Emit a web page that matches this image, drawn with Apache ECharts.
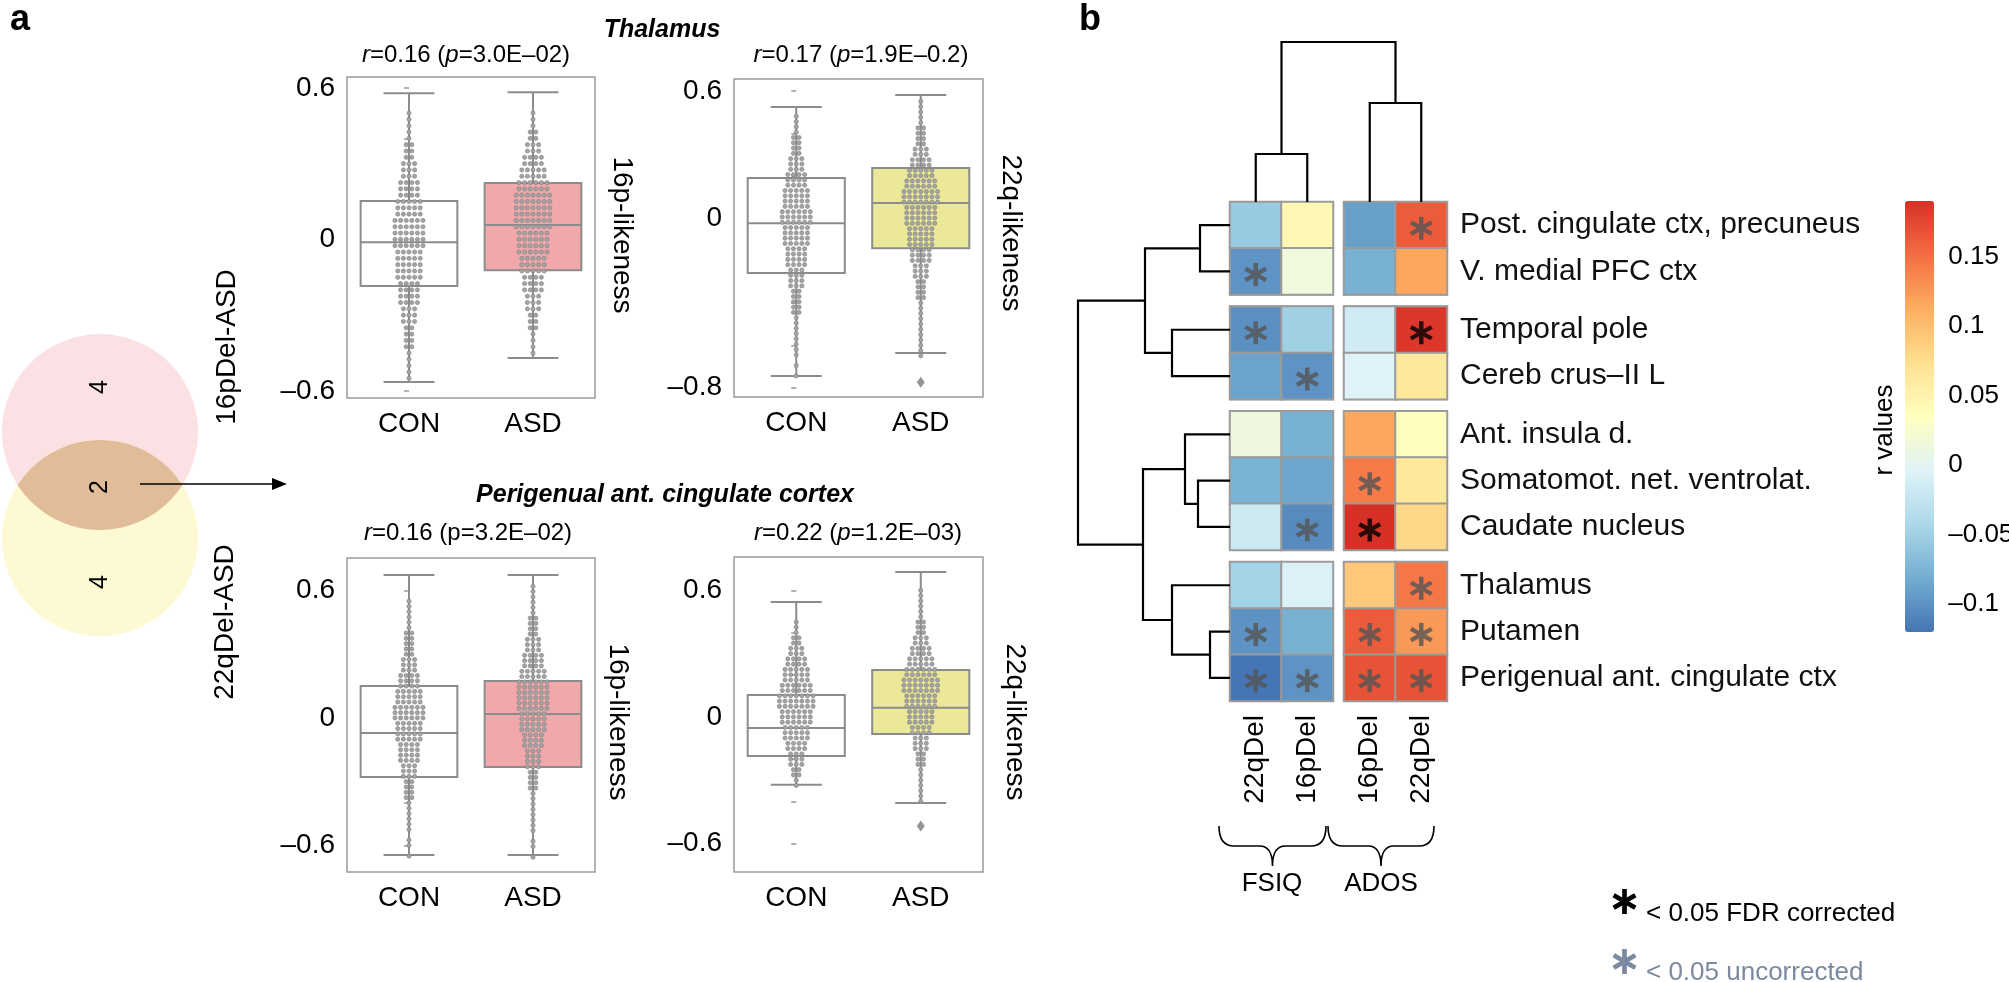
<!DOCTYPE html>
<html><head><meta charset="utf-8">
<script src="https://cdn.jsdelivr.net/npm/echarts@6/dist/echarts.min.js"></script>
<style>html,body{margin:0;padding:0;background:#fff}#c{width:2009px;height:982px}</style>
</head><body><div id="c"></div>
<script>
// ================= DATA =================
const groupNames = ['CON', 'ASD'];
// box stats per group: [lowerWhisker, Q1, median, Q3, upperWhisker]
const thal16Box = [[-0.565, -0.185, -0.011, 0.152, 0.579], [-0.470, -0.122, 0.057, 0.223, 0.583]];
const thal22Box = [[-0.745, -0.259, -0.024, 0.189, 0.524], [-0.637, -0.142, 0.071, 0.236, 0.580]];
const peri16Box = [[-0.645, -0.278, -0.071, 0.151, 0.673], [-0.645, -0.231, 0.019, 0.174, 0.673]];
const peri22Box = [[-0.322, -0.185, -0.052, 0.104, 0.545], [-0.408, -0.081, 0.043, 0.223, 0.687]];
const thal22Outliers = [[1, -0.774]];
const peri22Outliers = [[1, -0.517]];
// swarm: number of subjects per 0.025-wide bin, from the top value downwards
const swarmStep = 0.025;
const thal16ConTop = 0.50, thal16ConCounts = [1,1,1,1,1,2,2,2,3,3,3,4,4,4,5,5,5,6,6,6,6,6,5,5,5,5,5,4,4,4,4,3,3,3,2,2,2,2,1,1,1,1,1];
const thal16AsdTop = 0.50, thal16AsdCounts = [1,1,1,2,2,3,3,4,4,5,5,6,6,7,7,7,7,7,7,6,6,6,6,5,5,5,4,4,4,3,3,3,2,2,2,1,1,1,1];
const thal22ConTop = 0.48, thal22ConCounts = [1,1,1,1,2,2,2,2,3,3,3,4,4,4,5,5,5,5,6,6,6,5,5,5,5,4,4,4,4,3,3,3,3,2,2,2,2,2,1,1,1,1,1,1,1,1,0,1,0,1];
const thal22AsdTop = 0.55, thal22AsdCounts = [1,1,1,1,1,2,2,2,2,3,3,4,4,5,5,6,6,7,7,7,6,6,6,6,5,5,5,5,4,4,4,3,3,3,2,2,2,2,1,1,1,1,1,1,1,1,1,1,1];
const peri16ConTop = 0.55, peri16ConCounts = [1,1,1,1,1,1,2,2,2,2,2,3,3,3,4,4,4,5,5,5,6,6,6,5,5,5,5,4,4,4,4,3,3,3,2,2,2,2,1,1,1,1,1,1,0,1,1,0,1];
const peri16AsdTop = 0.62, peri16AsdCounts = [1,1,1,1,1,1,2,2,2,2,3,3,3,4,4,4,5,5,6,6,6,6,6,6,5,5,5,5,4,4,4,3,3,3,3,2,2,2,2,1,1,1,1,1,1,1,1,0,1,1,0,1];
const peri22ConTop = 0.45, peri22ConCounts = [1,1,1,2,2,3,3,4,4,5,5,5,6,6,7,7,7,6,6,6,5,5,5,4,4,3,3,3,2,2,1,1];
const peri22AsdTop = 0.60, peri22AsdCounts = [1,1,1,1,1,1,2,2,2,3,3,4,4,5,5,6,6,7,7,7,6,6,6,5,5,5,4,4,3,3,3,2,2,2,1,1,1,1,1,1,1];
// y-axis ticks / labels
const thal16Ticks = [-0.6,-0.4,-0.2,0,0.2,0.4,0.6], thal16Labels = [-0.6,0,0.6];
const thal22Ticks = [-0.8,-0.6,-0.4,-0.2,0,0.2,0.4,0.6], thal22Labels = [-0.8,0,0.6];
const peri16Ticks = [-0.6,-0.4,-0.2,0,0.2,0.4,0.6], peri16Labels = [-0.6,0,0.6];
const peri22Ticks = [-0.6,-0.4,-0.2,0,0.2,0.4,0.6], peri22Labels = [-0.6,0,0.6];
const panelTitles = ['{i|r}=0.16 ({i|p}=3.0E\u201302)', '{i|r}=0.17 ({i|p}=1.9E\u20130.2)', '{i|r}=0.16 (p=3.2E\u201302)', '{i|r}=0.22 ({i|p}=1.2E\u201303)'];
const sideLabels = ['16p-likeness', '22q-likeness', '16p-likeness', '22q-likeness'];
const regionTitles = ['Thalamus', 'Perigenual ant. cingulate cortex'];
// Venn
const vennSets = ['16pDel-ASD', '22qDel-ASD'];
const vennCounts = [4, 2, 4]; // 16p only, both, 22q only
// heatmap
const regions = ['Post. cingulate ctx, precuneus', 'V. medial PFC ctx', 'Temporal pole', 'Cereb crus\u2013II L',
  'Ant. insula d.', 'Somatomot. net. ventrolat.', 'Caudate nucleus', 'Thalamus', 'Putamen', 'Perigenual ant. cingulate ctx'];
const rowGroupSizes = [2, 2, 3, 3];
const measures = ['FSIQ', 'ADOS'];
const columns = [['22qDel', '16pDel'], ['16pDel', '22qDel']];
const rValues = [
  [-0.056, 0.044, -0.090, 0.162],
  [-0.099, 0.015, -0.078, 0.117],
  [-0.101, -0.050, -0.015, 0.185],
  [-0.088, -0.099, -0.005, 0.064],
  [0.014, -0.078, 0.117, 0.035],
  [-0.076, -0.086, 0.143, 0.064],
  [-0.018, -0.105, 0.190, 0.080],
  [-0.048, -0.007, 0.093, 0.145],
  [-0.100, -0.078, 0.162, 0.125],
  [-0.120, -0.099, 0.168, 0.168]
];
// 0 = n.s., 1 = p<0.05 uncorrected, 2 = p<0.05 FDR corrected
const significance = [
  [0,0,0,1],[1,0,0,0],[1,0,0,2],[0,1,0,0],[0,0,0,0],
  [0,0,1,0],[0,1,2,0],[0,0,0,1],[1,0,1,1],[1,1,1,1]
];
// dendrograms: [childA, childB, height] (scipy-style, leaves first)
const rowLinkage = [[8,9,0.20],[0,1,0.30],[5,6,0.32],[4,12,0.45],[2,3,0.58],[7,10,0.58],[11,14,0.85],[13,15,0.87],[16,17,1.52]];
const colLinkage = [[0,1,0.48],[2,3,0.99],[4,5,1.60]];
const colorMin = -0.12, colorMax = 0.19;
const colorbarTicks = [-0.1, -0.05, 0, 0.05, 0.1, 0.15];
const legendTexts = ['< 0.05 FDR corrected', '< 0.05 uncorrected'];

// ================= LAYOUT / STYLE =================
const FONT = "'Liberation Sans', Arial, Helvetica, sans-serif";
const GRAY = '#8c8c8c';
const fmt = v => v === 0 ? '0' : (v < 0 ? '\u2013' : '') + String(Math.abs(v));
const boxPanels = [
  {left: 347, top: 77, width: 248, height: 321, min: -0.628, max: 0.643, box: thal16Box, fill: ['#ffffff', '#f2a8aa'],
   ticks: thal16Ticks, labels: thal16Labels, swarm: [[thal16ConTop, thal16ConCounts], [thal16AsdTop, thal16AsdCounts]], out: []},
  {left: 734, top: 79, width: 249, height: 318, min: -0.844, max: 0.656, box: thal22Box, fill: ['#ffffff', '#ebe898'],
   ticks: thal22Ticks, labels: thal22Labels, swarm: [[thal22ConTop, thal22ConCounts], [thal22AsdTop, thal22AsdCounts]], out: thal22Outliers},
  {left: 347, top: 558, width: 248, height: 314, min: -0.725, max: 0.753, box: peri16Box, fill: ['#ffffff', '#f2a8aa'],
   ticks: peri16Ticks, labels: peri16Labels, swarm: [[peri16ConTop, peri16ConCounts], [peri16AsdTop, peri16AsdCounts]], out: []},
  {left: 734, top: 557, width: 249, height: 315, min: -0.735, max: 0.758, box: peri22Box, fill: ['#ffffff', '#ebe898'],
   ticks: peri22Ticks, labels: peri22Labels, swarm: [[peri22ConTop, peri22ConCounts], [peri22AsdTop, peri22AsdCounts]], out: peri22Outliers}
];
const titlePos = [[466, 55], [861, 55], [468, 533], [858, 533]];
const sidePos = [[622, 235], [1011, 233], [618, 722], [1015, 722]];

const grids = [], xAxes = [], yAxes = [], series = [];

function boxRenderer(fills) {
  return function (params, api) {
    const c = api.value(0);
    const lo = api.coord([c, api.value(1)]), q1 = api.coord([c, api.value(2)]);
    const md = api.coord([c, api.value(3)]), q3 = api.coord([c, api.value(4)]);
    const hi = api.coord([c, api.value(5)]);
    const band = api.size([1, 0])[0];
    const hw = band * 0.39, cw = band * 0.205;
    const ls = {stroke: GRAY, lineWidth: 2, fill: null};
    return {type: 'group', children: [
      {type: 'line', shape: {x1: lo[0], y1: lo[1], x2: hi[0], y2: hi[1]}, style: ls},
      {type: 'line', shape: {x1: lo[0] - cw, y1: lo[1], x2: lo[0] + cw, y2: lo[1]}, style: ls},
      {type: 'line', shape: {x1: hi[0] - cw, y1: hi[1], x2: hi[0] + cw, y2: hi[1]}, style: ls},
      {type: 'rect', shape: {x: q3[0] - hw, y: q3[1], width: 2 * hw, height: q1[1] - q3[1]}, style: {fill: fills[c], stroke: GRAY, lineWidth: 2}},
      {type: 'line', shape: {x1: md[0] - hw, y1: md[1], x2: md[0] + hw, y2: md[1]}, style: ls}
    ]};
  };
}

function swarmPoints(top, counts, cat, dx) {
  const pts = [];
  counts.forEach((n, i) => {
    const v = +(top - i * swarmStep).toFixed(4);
    for (let k = 0; k < n; k++) pts.push([cat + (k - (n - 1) / 2) * dx, v]);
  });
  return pts;
}

boxPanels.forEach((p, gi) => {
  grids.push({left: p.left, top: p.top, width: p.width, height: p.height, show: true, borderColor: '#9a9a9a', borderWidth: 1.5, backgroundColor: 'transparent'});
  const xc = xAxes.length;
  xAxes.push({type: 'category', gridIndex: gi, data: groupNames, axisLine: {show: false},
    axisTick: {alignWithLabel: true, length: 5, lineStyle: {color: '#999', width: 1.5}},
    axisLabel: {fontSize: 28, color: '#000', fontFamily: FONT, margin: 12}});
  const xv = xAxes.length;
  xAxes.push({type: 'value', gridIndex: gi, min: -0.5, max: 1.5, show: false});
  const yi = yAxes.length;
  yAxes.push({type: 'value', gridIndex: gi, min: p.min, max: p.max, axisLine: {show: false}, splitLine: {show: false},
    axisTick: {show: true, length: 5, customValues: p.ticks, lineStyle: {color: '#999', width: 1.5}},
    axisLabel: {customValues: p.labels, formatter: fmt, fontSize: 28, color: '#000', fontFamily: FONT, margin: 12}});
  series.push({type: 'custom', xAxisIndex: xc, yAxisIndex: yi, renderItem: boxRenderer(p.fill), clip: false, z: 2,
    encode: {x: 0, y: [1, 2, 3, 4, 5]}, silent: true,
    data: p.box.map((b, i) => [i].concat(b))});
  const dx = 5.6 / (p.width / 2);
  const pts = [].concat(swarmPoints(p.swarm[0][0], p.swarm[0][1], 0, dx), swarmPoints(p.swarm[1][0], p.swarm[1][1], 1, dx));
  series.push({type: 'scatter', xAxisIndex: xv, yAxisIndex: yi, data: pts, symbolSize: 4.2, z: 3, silent: true,
    itemStyle: {color: '#a4a4a4', borderColor: '#808080', borderWidth: 0.6, opacity: 1}});
  if (p.out.length) series.push({type: 'scatter', xAxisIndex: xv, yAxisIndex: yi, data: p.out, symbol: 'diamond', symbolSize: [8, 11], z: 3, silent: true,
    itemStyle: {color: '#7a7a7a'}});
});

// ---- heatmap blocks ----
const heatLeft = 1230, cellW = 51.5, colGap = 11, heatTop = 202, cellH = 46.3, rowGap = 12;
const heatSeriesIdx = [];
const ASTER_D = 'M41,2L59,2L59,98L41,98Z M87.07,18.21L96.07,33.79L12.93,81.79L3.93,66.21Z M3.93,33.79L12.93,18.21L96.07,66.21L87.07,81.79Z';
const ASTER = 'path://' + ASTER_D;
let rowStart = 0, gTop = heatTop;
const rowLeafPos = [];
rowGroupSizes.forEach((nr, k) => {
  for (let r = 0; r < nr; r++) rowLeafPos.push(rowStart + r + 0.5 + k * rowGap / cellH);
  for (let j = 0; j < 2; j++) {
    const gi = grids.length;
    grids.push({left: heatLeft + j * (2 * cellW + colGap), top: gTop, width: 2 * cellW, height: nr * cellH,
      show: true, borderColor: '#9b9b9b', borderWidth: 2, backgroundColor: 'transparent'});
    const xi = xAxes.length;
    xAxes.push({type: 'category', gridIndex: gi, data: columns[j], axisLine: {show: false}, axisTick: {show: false},
      axisLabel: {show: k === rowGroupSizes.length - 1, rotate: 90, fontSize: 28, color: '#000', fontFamily: FONT, margin: 14}});
    const yi = yAxes.length;
    yAxes.push({type: 'category', gridIndex: gi, inverse: true, position: 'right', data: regions.slice(rowStart, rowStart + nr),
      axisLine: {show: false}, axisTick: {show: false},
      axisLabel: {show: j === 1, fontSize: 30, color: '#111', fontFamily: FONT, margin: 13}});
    const hd = [], sigU = [], sigF = [];
    for (let r = 0; r < nr; r++) for (let c = 0; c < 2; c++) {
      const v = rValues[rowStart + r][j * 2 + c];
      hd.push([c, r, v]);
      const s = significance[rowStart + r][j * 2 + c];
      if (s === 1) sigU.push([c, r]);
      if (s === 2) sigF.push([c, r]);
    }
    heatSeriesIdx.push(series.length);
    series.push({type: 'heatmap', xAxisIndex: xi, yAxisIndex: yi, data: hd, silent: true,
      itemStyle: {borderColor: '#9b9b9b', borderWidth: 2}, emphasis: {disabled: true}});
    series.push({type: 'scatter', xAxisIndex: xi, yAxisIndex: yi, data: sigU, symbol: ASTER, symbolSize: 23, symbolOffset: [0, 3],
      itemStyle: {color: '#555555'}, z: 5, silent: true});
    series.push({type: 'scatter', xAxisIndex: xi, yAxisIndex: yi, data: sigF, symbol: ASTER, symbolSize: 23, symbolOffset: [0, 3],
      itemStyle: {color: '#000000'}, z: 5, silent: true});
  }
  rowStart += nr;
  gTop += nr * cellH + rowGap;
});
const heatBottom = gTop - rowGap;
const rowUnits = regions.length + (rowGroupSizes.length - 1) * rowGap / cellH;

function dendroSegments(linkage, leafPos) {
  const pos = leafPos.slice(), ht = leafPos.map(() => 0), segs = [];
  linkage.forEach(([a, b, h]) => {
    segs.push([[ht[a], pos[a]], [h, pos[a]], [h, pos[b]], [ht[b], pos[b]]]);
    pos.push((pos[a] + pos[b]) / 2); ht.push(h);
  });
  return segs;
}
// row dendrogram
const rootRow = rowLinkage[rowLinkage.length - 1][2];
{
  const gi = grids.length;
  grids.push({left: 1078, top: heatTop, width: heatLeft - 1078, height: heatBottom - heatTop});
  const xi = xAxes.length; xAxes.push({type: 'value', gridIndex: gi, min: 0, max: rootRow, inverse: true, show: false});
  const yi = yAxes.length; yAxes.push({type: 'value', gridIndex: gi, min: 0, max: rowUnits, inverse: true, show: false});
  series.push({type: 'lines', coordinateSystem: 'cartesian2d', xAxisIndex: xi, yAxisIndex: yi, polyline: true, silent: true,
    lineStyle: {color: '#000', width: 2.2, opacity: 1}, data: dendroSegments(rowLinkage, rowLeafPos).map(c => ({coords: c}))});
}
// column dendrogram
const colLeafPos = [0.5, 1.5, 2.5 + colGap / cellW, 3.5 + colGap / cellW];
const rootCol = colLinkage[colLinkage.length - 1][2];
{
  const gi = grids.length;
  grids.push({left: heatLeft, top: 42, width: 4 * cellW + colGap, height: heatTop - 42});
  const xi = xAxes.length; xAxes.push({type: 'value', gridIndex: gi, min: 0, max: 4 + colGap / cellW, show: false});
  const yi = yAxes.length; yAxes.push({type: 'value', gridIndex: gi, min: 0, max: rootCol, show: false});
  series.push({type: 'lines', coordinateSystem: 'cartesian2d', xAxisIndex: xi, yAxisIndex: yi, polyline: true, silent: true,
    lineStyle: {color: '#000', width: 2.2, opacity: 1},
    data: dendroSegments(colLinkage, colLeafPos).map(c => ({coords: c.map(p => [p[1], p[0]])}))});
}
// colorbar axis
const cbTop = 201, cbHeight = 431, cbLeft = 1905, cbWidth = 29;
{
  const gi = grids.length;
  grids.push({left: cbLeft + cbWidth, top: cbTop, width: 1, height: cbHeight});
  xAxes.push({type: 'value', gridIndex: gi, show: false, min: 0, max: 1});
  yAxes.push({type: 'value', gridIndex: gi, position: 'right', min: colorMin, max: colorMax, axisLine: {show: false},
    splitLine: {show: false}, axisTick: {show: false},
    axisLabel: {customValues: colorbarTicks, formatter: fmt, fontSize: 26, color: '#000', fontFamily: FONT, margin: 14}});
}

// ---- decorative paths (Venn lens, braces, legend asterisks) via a custom series ----
const vc = [[100, 432], [100, 538]], vr = 98;
function brace(x0, x1, y0, h) {
  const xm = (x0 + x1) / 2, w = x1 - x0, ym = y0 + h / 2;
  return `M${x0},${y0} Q${x0},${ym} ${x0 + w * 0.14},${ym} L${xm - w * 0.12},${ym} Q${xm},${ym} ${xm},${y0 + h} Q${xm},${ym} ${xm + w * 0.12},${ym} L${x1 - w * 0.14},${ym} Q${x1},${ym} ${x1},${y0}`;
}
series.push({type: 'custom', coordinateSystem: 'none', silent: true, data: [0], z: 1,
  renderItem: function () {
    const d = vc[1][1] - vc[0][1], my = (vc[0][1] + vc[1][1]) / 2, hc = Math.sqrt(vr * vr - (d / 2) * (d / 2));
    const xl = vc[0][0] - hc, xr = vc[0][0] + hc;
    return {type: 'group', children: [
      {type: 'circle', shape: {cx: vc[0][0], cy: vc[0][1], r: vr}, style: {fill: '#fbe1e4'}},
      {type: 'circle', shape: {cx: vc[1][0], cy: vc[1][1], r: vr}, style: {fill: '#fdf9d3'}},
      {type: 'path', shape: {pathData: `M${xl},${my} A${vr},${vr} 0 0 1 ${xr},${my} A${vr},${vr} 0 0 1 ${xl},${my} Z`}, style: {fill: '#e0bc99'}},
      {type: 'path', shape: {pathData: brace(1219, 1326, 826, 40)}, style: {fill: null, stroke: '#000', lineWidth: 1.6}},
      {type: 'path', shape: {pathData: brace(1328, 1434, 826, 40)}, style: {fill: null, stroke: '#000', lineWidth: 1.6}},
      {type: 'path', shape: {pathData: ASTER_D, x: 1612, y: 889, width: 25, height: 25}, style: {fill: '#000'}},
      {type: 'path', shape: {pathData: ASTER_D, x: 1612, y: 949, width: 25, height: 25}, style: {fill: '#7b8aa0'}},
      {type: 'line', shape: {x1: 140, y1: 484, x2: 274, y2: 484}, style: {stroke: '#000', lineWidth: 1.6}},
      {type: 'polygon', shape: {points: [[272, 478], [287, 484], [272, 490]]}, style: {fill: '#000'}}
    ]};
  }});

// ---- text graphics ----
const txt = (text, x, y, o) => Object.assign({type: 'text', x: x, y: y, silent: true, z: 10,
  style: Object.assign({text: text, fill: '#000', fontFamily: FONT, fontSize: 28, align: 'center', verticalAlign: 'middle'}, (o && o.style) || {})},
  o && o.rotation !== undefined ? {rotation: o.rotation} : {});
const graphic = [];
graphic.push(txt('a', 20, 20, {style: {fontSize: 36, fontWeight: 'bold'}}));
graphic.push(txt('b', 1090, 20, {style: {fontSize: 36, fontWeight: 'bold'}}));
graphic.push(txt(regionTitles[0], 662, 30, {style: {fontSize: 25, fontWeight: 'bold', fontStyle: 'italic'}}));
graphic.push(txt(regionTitles[1], 665, 495, {style: {fontSize: 25, fontWeight: 'bold', fontStyle: 'italic'}}));
panelTitles.forEach((t, i) => graphic.push(txt(t, titlePos[i][0], titlePos[i][1], {style: {fontSize: 24, rich: {i: {fontStyle: 'italic', fontSize: 24, fontFamily: FONT}}}})));
sideLabels.forEach((t, i) => graphic.push(txt(t, sidePos[i][0], sidePos[i][1], {rotation: -Math.PI / 2, style: {fontSize: 28}})));
graphic.push(txt(String(vennCounts[0]), 100, 387, {rotation: Math.PI / 2, style: {fontSize: 25}}));
graphic.push(txt(String(vennCounts[1]), 100, 487, {rotation: Math.PI / 2, style: {fontSize: 25}}));
graphic.push(txt(String(vennCounts[2]), 100, 582, {rotation: Math.PI / 2, style: {fontSize: 25}}));
graphic.push(txt(vennSets[0], 227, 347, {rotation: Math.PI / 2, style: {fontSize: 28}}));
graphic.push(txt(vennSets[1], 225, 622, {rotation: Math.PI / 2, style: {fontSize: 28}}));
graphic.push(txt(measures[0], 1272, 884, {style: {fontSize: 26}}));
graphic.push(txt(measures[1], 1381, 884, {style: {fontSize: 26}}));
graphic.push(txt('r values', 1885, 430, {rotation: Math.PI / 2, style: {fontSize: 26}}));
graphic.push(txt(legendTexts[0], 1646, 914, {style: {fontSize: 26, align: 'left'}}));
graphic.push(txt(legendTexts[1], 1646, 973, {style: {fontSize: 26, align: 'left', fill: '#7b8aa0'}}));

const chart = echarts.init(document.getElementById('c'), null, {renderer: 'canvas'});
chart.setOption({
  animation: false,
  backgroundColor: '#ffffff',
  textStyle: {fontFamily: FONT},
  grid: grids, xAxis: xAxes, yAxis: yAxes,
  visualMap: {type: 'continuous', min: colorMin, max: colorMax, seriesIndex: heatSeriesIdx, dimension: 2,
    left: cbLeft, top: cbTop, itemWidth: cbWidth, itemHeight: cbHeight, calculable: false, padding: 0, orient: 'vertical',
    inRange: {color: ['#4575b4', '#74add1', '#abd9e9', '#e0f3f8', '#ffffbf', '#fee090', '#fdae61', '#f46d43', '#d73027']}},
  series: series,
  graphic: graphic
});
</script></body></html>
